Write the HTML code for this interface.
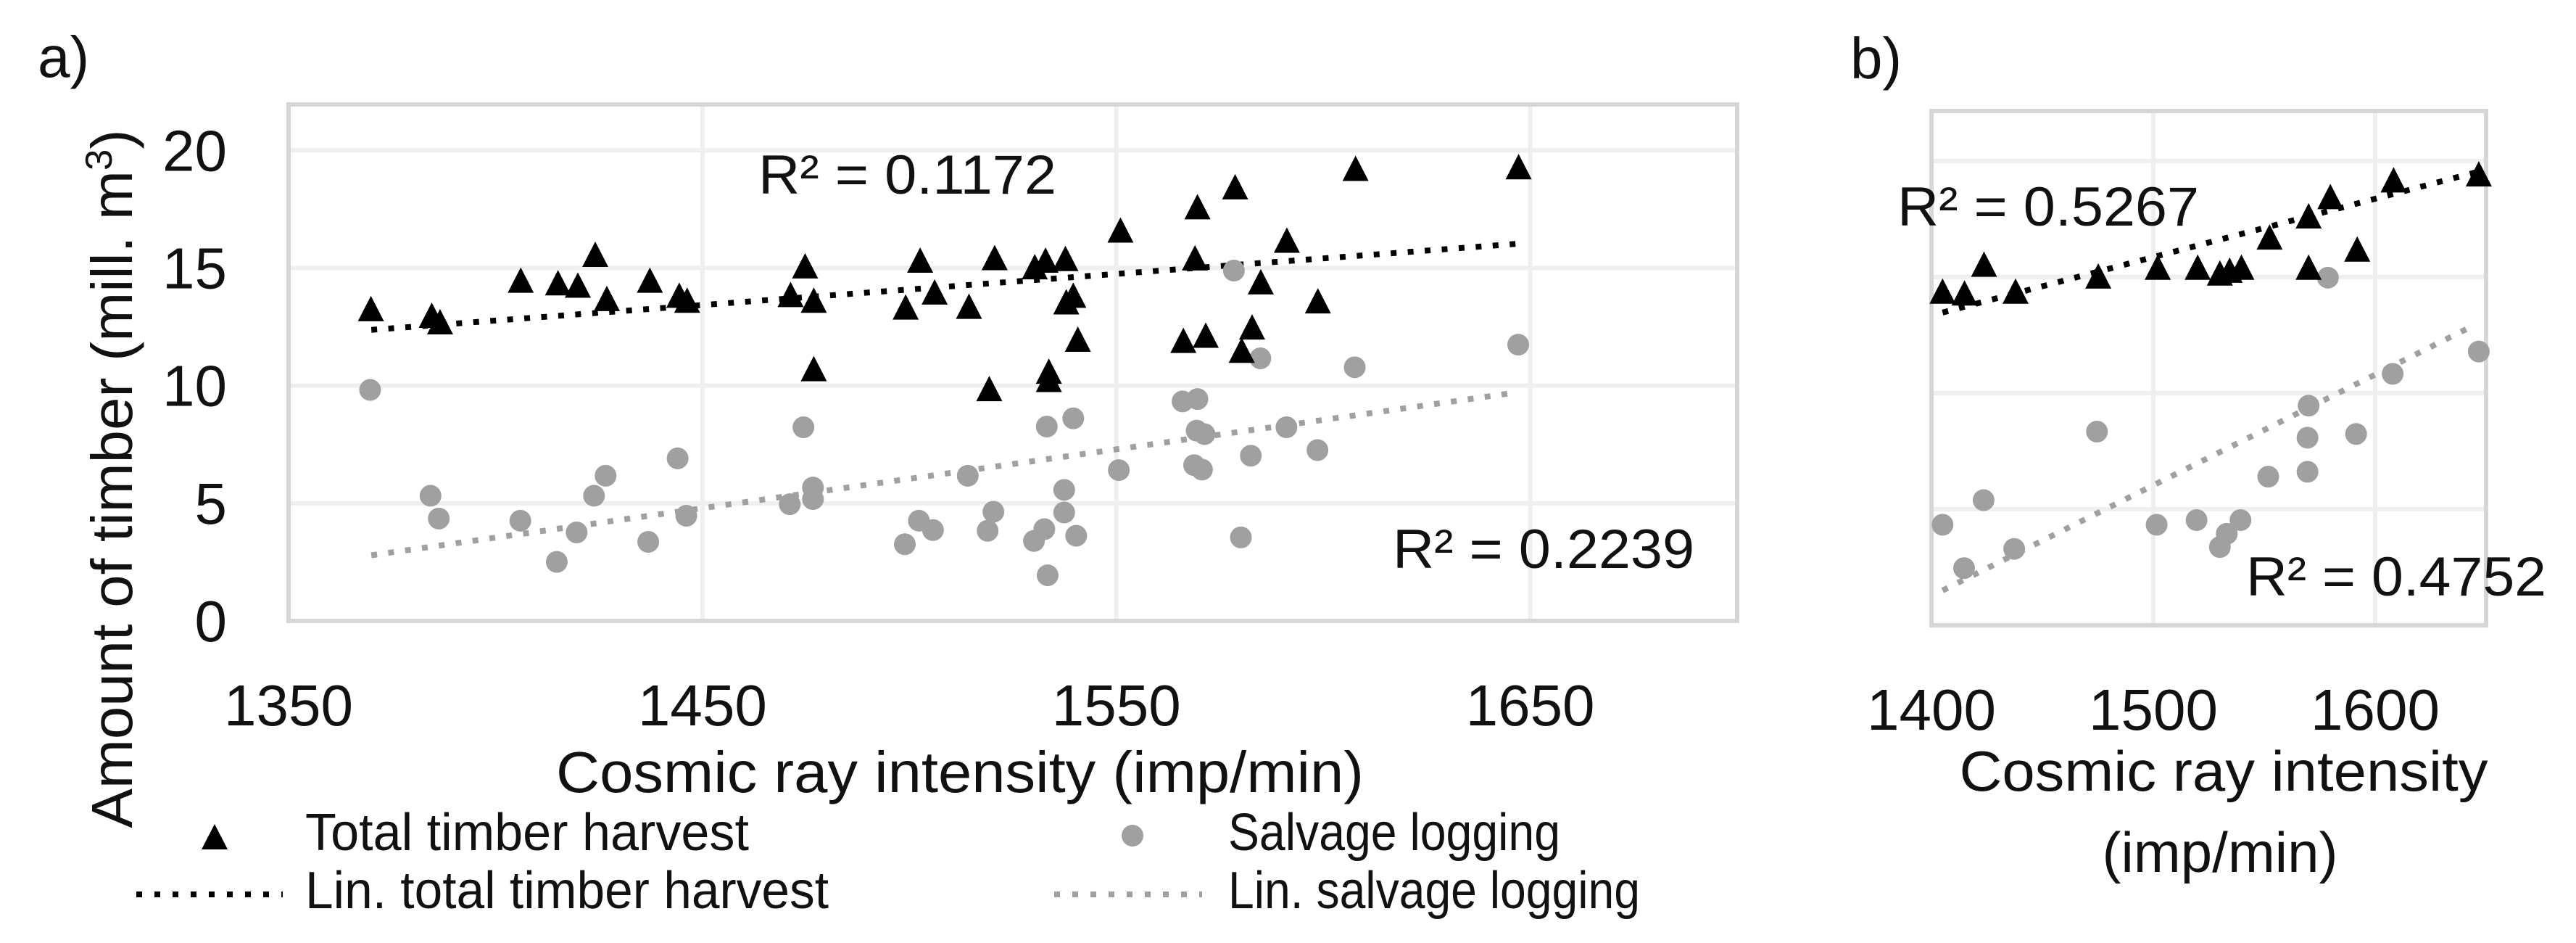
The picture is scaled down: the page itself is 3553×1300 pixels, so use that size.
<!DOCTYPE html>
<html><head><meta charset="utf-8"><style>
html,body{margin:0;padding:0;background:#fff;}
svg{display:block;font-family:"Liberation Sans",sans-serif;}
</style></head><body>
<svg id="chart" width="3553" height="1300" viewBox="0 0 3553 1300" xmlns="http://www.w3.org/2000/svg">
<g id="a"></g>
<g id="b"></g>
</svg>
<script>
// Panel a data
const aTotalX = [1369.9,1384.6,1386.6,1406.1,1415.1,1419.9,1424.1,1426.9,1437.3,1444.4,1446.3,1471.3,1474.8,1476.9,1476.9,1499.1,1502.6,1506.1,1514.4,1520.6,1519.3,1530.3,1532.9,1537.7,1537.9,1539.6,1540.7,1533.7,1533.7,1551,1569,1569.6,1566.2,1571.6,1578.7,1584.9,1582.8,1580.3,1591.2,1598.7,1607.8,1647.2];
const aTotalY = [13.26,12.98,12.7,14.47,14.36,14.26,15.57,13.69,14.47,13.83,13.62,13.86,15.08,13.62,10.71,13.33,15.32,13.97,13.36,15.43,9.86,15.04,15.32,15.39,13.55,13.83,11.96,10.6,10.25,16.6,15.42,17.59,11.91,12.13,18.44,14.4,12.48,11.49,16.17,13.59,19.22,19.29];
const aSalvX = [1369.7,1384.3,1386.3,1406,1414.8,1419.6,1423.8,1426.6,1436.9,1444,1446.1,1471.1,1474.4,1476.7,1476.7,1498.9,1502.3,1505.7,1514.1,1520.3,1518.9,1530.1,1532.6,1533.4,1537.4,1537.4,1540.3,1533.2,1539.6,1550.6,1566,1569.6,1569.4,1571.3,1568.8,1570.7,1578.4,1580.1,1582.5,1584.8,1591.1,1598.6,1607.6,1647.1];
const aSalvY = [9.82,5.32,4.35,4.26,2.51,3.76,5.32,6.17,3.36,6.91,4.47,4.96,8.23,5.67,5.18,3.26,4.26,3.86,6.17,4.64,3.83,3.4,3.9,1.94,4.61,5.57,3.62,8.26,8.61,6.41,9.33,9.43,8.09,7.94,6.62,6.43,14.89,3.55,7.02,11.16,8.23,7.26,10.78,11.74];
const aTrendTotalX = [1370,1647];
const aTrendTotalY = [12.37,16.03];
const aTrendSalvX = [1370,1645];
const aTrendSalvY = [2.79,9.67];
const aXTicks = [1350,1450,1550,1650];
const aYTicks = [0,5,10,15,20];
// Panel b data
const bTotalX = [1405,1414.9,1423.7,1437.9,1475.2,1502,1520,1530,1534.4,1539.7,1552.4,1570,1570,1579.8,1591.9,1608.3,1646.7];
const bTotalY = [14.38,14.3,15.54,14.38,15.03,15.41,15.41,15.16,15.28,15.41,16.71,15.41,17.62,18.45,16.19,19.17,19.43];
const bSalvX = [1405,1414.7,1423.5,1437.3,1474.6,1501.5,1519.5,1530,1533.1,1539.3,1551.8,1569.5,1569.5,1570,1578.7,1591.4,1607.9,1646.7];
const bSalvY = [4.33,2.46,5.39,3.29,8.34,4.33,4.53,3.37,3.94,4.53,6.4,6.61,8.08,9.46,14.97,8.24,10.83,11.79];
const bTrendTotalX = [1405,1649];
const bTrendTotalY = [13.47,19.6];
const bTrendSalvX = [1405,1641];
const bTrendSalvY = [1.5,12.75];
const bXTicks = [1400,1500,1600];
const bYGrid = [5,10,15,20];

const NS="http://www.w3.org/2000/svg";
function mk(parent,tag,attrs,text){const e=document.createElementNS(NS,tag);for(const k in attrs)e.setAttribute(k,attrs[k]);if(text!==undefined)e.textContent=text;parent.appendChild(e);return e;}

function panel(g,cfg){
  const sx=v=>cfg.x0+(v-cfg.xmin)/(cfg.xmax-cfg.xmin)*(cfg.x1-cfg.x0);
  const sy=v=>cfg.y1-(v-cfg.ymin)/(cfg.ymax-cfg.ymin)*(cfg.y1-cfg.y0);
  cfg.xgrid.forEach(v=>{const l=mk(g,'line',{x1:sx(v),x2:sx(v),y1:cfg.y0,y2:cfg.y1,stroke:'#efefef','stroke-width':6});
    
    });
  cfg.ygrid.forEach(v=>{const l=mk(g,'line',{x1:cfg.x0,x2:cfg.x1,y1:sy(v),y2:sy(v),stroke:'#efefef','stroke-width':6});
    
    });
  const r=mk(g,'rect',{x:cfg.x0,y:cfg.y0,width:cfg.x1-cfg.x0,height:cfg.y1-cfg.y0,fill:'none',stroke:'#d6d6d6','stroke-width':6});
  
  
  // trendlines
  const t1=mk(g,'line',{x1:sx(cfg.ttx[0]),y1:sy(cfg.tty[0]),x2:sx(cfg.ttx[1]),y2:sy(cfg.tty[1]),stroke:'#000','stroke-width':8,'stroke-dasharray':'8 15.5'});
  
  
  const t2=mk(g,'line',{x1:sx(cfg.tsx[0]),y1:sy(cfg.tsy[0]),x2:sx(cfg.tsx[1]),y2:sy(cfg.tsy[1]),stroke:'#a0a0a0','stroke-width':8,'stroke-dasharray':'8 15.5'});
  
  
  cfg.sX.forEach((v,i)=>{const c=mk(g,'circle',{cx:sx(v),cy:sy(cfg.sY[i]),r:15,fill:'#a0a0a0'});
    
    });
  cfg.tX.forEach((v,i)=>{const x=sx(v),y=sy(cfg.tY[i]);const p=mk(g,'polygon',{points:`${x},${y-18} ${x+18},${y+17} ${x-18},${y+17}`,fill:'#000'});
    
    });
  cfg.xticks.forEach(v=>{const t=mk(g,'text',{x:sx(v),y:cfg.tickY,'text-anchor':'middle','font-size':80,fill:'#111'},String(v));
    
    });
  return {sx,sy};
}

const ga=document.getElementById('a');
const A=panel(ga,{x0:398,x1:2396,y0:144,y1:856,xmin:1350,xmax:1700,ymin:0,ymax:21.95,xgrid:[1450,1550,1650],ygrid:[5,10,15,20],
  tX:aTotalX,tY:aTotalY,sX:aSalvX,sY:aSalvY,ttx:aTrendTotalX,tty:aTrendTotalY,tsx:aTrendSalvX,tsy:aTrendSalvY,xticks:aXTicks,tickY:1000});
aYTicks.forEach(v=>{const t=mk(ga,'text',{x:313,y:A.sy(v)+28,'text-anchor':'end','font-size':80,fill:'#111'},String(v));
  
  });

const gb=document.getElementById('b');
panel(gb,{x0:2664,x1:3429,y0:153,y1:862,xmin:1400,xmax:1650,ymin:0,ymax:22.15,xgrid:[1500,1600],ygrid:bYGrid,
  tX:bTotalX,tY:bTotalY,sX:bSalvX,sY:bSalvY,ttx:bTrendTotalX,tty:bTrendTotalY,tsx:bTrendSalvX,tsy:bTrendSalvY,xticks:bXTicks,tickY:1006});
</script>
<svg style="position:absolute;left:0;top:0" width="3553" height="1300" xmlns="http://www.w3.org/2000/svg" font-family="Liberation Sans, sans-serif" fill="#111">
<text x="52" y="106" font-size="80">a)</text>
<text x="2552" y="108" font-size="80">b)</text>
<text x="1046" y="267" font-size="76" textLength="411" lengthAdjust="spacingAndGlyphs">R² = 0.1172</text>
<text x="1921" y="783" font-size="76" textLength="416" lengthAdjust="spacingAndGlyphs">R² = 0.2239</text>
<text x="767" y="1092" font-size="80" textLength="1114" lengthAdjust="spacingAndGlyphs">Cosmic ray intensity (imp/min)</text>
<text transform="translate(182,660) rotate(-90)" text-anchor="middle" font-size="80" textLength="963" lengthAdjust="spacingAndGlyphs">Amount of timber (mill. m<tspan font-size="52" dy="-28">3</tspan><tspan dy="28">)</tspan></text>
<g>
<polygon points="296,1136 314,1171 278,1171" fill="#000"/>
<text x="421" y="1172" font-size="72" textLength="612" lengthAdjust="spacingAndGlyphs">Total timber harvest</text>
<line x1="188" y1="1233" x2="390" y2="1233" stroke="#000" stroke-width="8" stroke-dasharray="8 17"/>
<text x="421" y="1252" font-size="72" textLength="722" lengthAdjust="spacingAndGlyphs">Lin. total timber harvest</text>
<circle cx="1562" cy="1152" r="15" fill="#a0a0a0"/>
<text x="1694" y="1172" font-size="72" textLength="458" lengthAdjust="spacingAndGlyphs">Salvage logging</text>
<line x1="1454" y1="1233" x2="1658" y2="1233" stroke="#a0a0a0" stroke-width="8" stroke-dasharray="8 17"/>
<text x="1694" y="1252" font-size="72" textLength="568" lengthAdjust="spacingAndGlyphs">Lin. salvage logging</text>
</g>
<text x="2617" y="311" font-size="76" textLength="416" lengthAdjust="spacingAndGlyphs">R² = 0.5267</text>
<text x="3098" y="821" font-size="76" textLength="414" lengthAdjust="spacingAndGlyphs">R² = 0.4752</text>
<text x="3067" y="1090" text-anchor="middle" font-size="78" textLength="729" lengthAdjust="spacingAndGlyphs">Cosmic ray intensity</text>
<text x="3062" y="1202" text-anchor="middle" font-size="78">(imp/min)</text>
</svg>
</body></html>
